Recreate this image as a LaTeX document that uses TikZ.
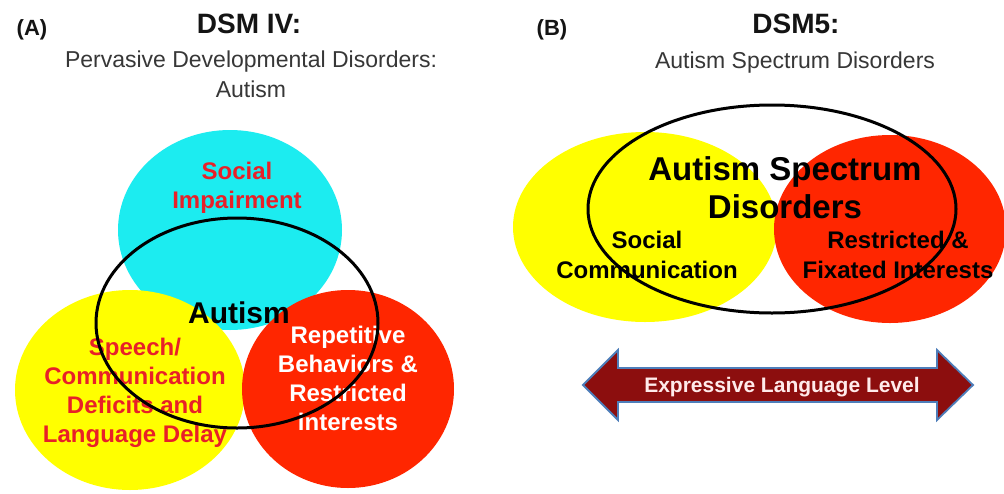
\documentclass[tikz,border=0pt]{standalone}
\usepackage{fontspec}
\setmainfont{Liberation Sans}
\definecolor{cyanc}{RGB}{28,236,240}
\definecolor{yellowc}{RGB}{255,255,0}
\definecolor{redc}{RGB}{255,38,0}
\definecolor{redtext}{RGB}{232,32,40}
\definecolor{titlec}{RGB}{20,20,20}
\definecolor{subc}{RGB}{55,55,55}
\definecolor{arrowfill}{RGB}{140,14,14}
\definecolor{arrowedge}{RGB}{78,126,186}
\begin{document}
\begin{tikzpicture}[x=1pt,y=-1pt,
  txt/.style={inner sep=0pt,anchor=base,align=center},
  panellab/.style={txt,text=titlec,font=\bfseries\fontsize{22}{26}\selectfont},
  titletxt/.style={txt,text=titlec,font=\bfseries\fontsize{28}{32}\selectfont},
  subtxt/.style={txt,text=subc,font=\fontsize{23}{30}\selectfont},
  redlab/.style={txt,text=redtext,font=\bfseries\fontsize{24}{29}\selectfont},
  whitelab/.style={txt,text=white,font=\bfseries\fontsize{24}{29}\selectfont},
  blacklab/.style={txt,text=black,font=\bfseries\fontsize{24}{30}\selectfont},
  biglab/.style={txt,text=black,font=\bfseries\fontsize{33}{38}\selectfont},
  outline/.style={draw=black,line width=3pt}
]
\useasboundingbox (0,0) rectangle (1004,493);
\fill[white] (0,0) rectangle (1004,493);

% ---------------- Panel A ----------------
\node[panellab] (labA) at (32,35) {(A)};
\node[titletxt] (titleA) at (249,33) {DSM IV:};
\node[subtxt] (subA) at (251,97) {Pervasive Developmental Disorders:\\Autism};

\fill[cyanc] (230,230) ellipse [x radius=112pt, y radius=100pt];
\fill[yellowc] (130,390) ellipse [x radius=115pt, y radius=100pt];
\fill[redc] (348,389) ellipse [x radius=106pt, y radius=99pt];

\node[redlab] (social) at (237,208) {Social\\Impairment};
\node[redlab] (speech) at (135,442) {Speech/\\Communication\\Deficits and\\Language Delay};
\node[whitelab] (repet) at (348,430) {Repetitive\\Behaviors \&\\Restricted\\interests};
\node[txt,text=black,font=\bfseries\fontsize{30}{34}\selectfont] (autA) at (239,323) {Autism};

\draw[outline] (237,323) ellipse [x radius=141pt, y radius=105pt];

% ---------------- Panel B ----------------
\node[panellab] (labB) at (552,35) {(B)};
\node[titletxt] (titleB) at (796,33) {DSM5:};
\node[subtxt] (subB) at (795,68) {Autism Spectrum Disorders};

\fill[yellowc] (645,227) ellipse [x radius=132pt, y radius=95pt];
\fill[redc] (890,229) ellipse [x radius=116pt, y radius=94pt];

\node[biglab] (asd) at (785,218) {Autism Spectrum\\Disorders};
\node[blacklab] (soccom) at (647,278) {Social\\Communication};
\node[blacklab] (restr) at (898,278) {Restricted \&\\Fixated Interests};

\draw[outline] (772,209) ellipse [x radius=184pt, y radius=104pt];

% arrow
\coordinate (aL) at (583,385);
\coordinate (aR) at (973,385);
\filldraw[fill=arrowfill,draw=arrowedge,line width=1.8pt,line join=miter]
  (aL) -- (618,350) -- (618,368) -- (937,368) -- (937,350) -- (aR)
  -- (937,420) -- (937,402) -- (618,402) -- (618,420) -- cycle;
\node[txt,text=white!92!red,font=\bfseries\fontsize{21}{25}\selectfont] (expr) at (782,392) {Expressive Language Level};
\end{tikzpicture}
\end{document}
